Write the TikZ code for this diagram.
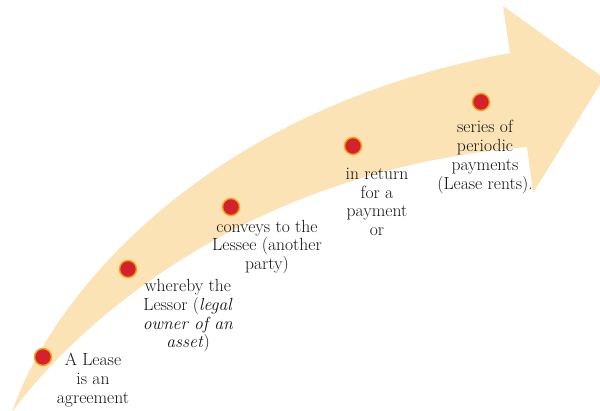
\documentclass[tikz,border=0pt]{standalone}
\begin{document}
\begin{tikzpicture}[x=1pt,y=-1pt,
  band/.style={fill=bandcol},
  dotmark/.style={circle,fill=dotred,draw=dotorange,line width=1.4pt,minimum size=17pt,inner sep=0pt},
  lbl/.style={align=center,inner sep=0pt,font=\fontsize{17.6}{18.7}\selectfont,text=black!92}]
\definecolor{bandcol}{HTML}{FCE3B6}
\definecolor{dotred}{HTML}{D3222C}
\definecolor{dotorange}{HTML}{F6A21C}
\useasboundingbox (0,0) rectangle (600,410);
\begin{scope}
\clip (0,0) rectangle (600,410);
\fill[band] (12,412) .. controls (50,300) and (200,110) .. (510,53)
  -- (503,6) -- (604,78) -- (533,193) -- (527,147)
  .. controls (250,170) and (80,320) .. (12,412) -- cycle;
\end{scope}
\node[dotmark] (d1) at (43,357) {};
\node[dotmark] (d2) at (128,269) {};
\node[dotmark] (d3) at (231,207) {};
\node[dotmark] (d4) at (353,146) {};
\node[dotmark] (d5) at (481,102) {};
\node[lbl] (t1) at (93,380) {A Lease\\is an\\agreement};
\node[lbl] (t2) at (188,316) {whereby the\\Lessor (\textit{legal}\\\textit{owner of an}\\\textit{asset})};
\node[lbl] (t3) at (267,247) {conveys to the\\Lessee (another\\party)};
\node[lbl] (t4) at (377,202) {in return\\for a\\payment\\or};
\node[lbl] (t5) at (485,157) {series of\\periodic\\payments\\(Lease rents).};
\end{tikzpicture}
\end{document}
